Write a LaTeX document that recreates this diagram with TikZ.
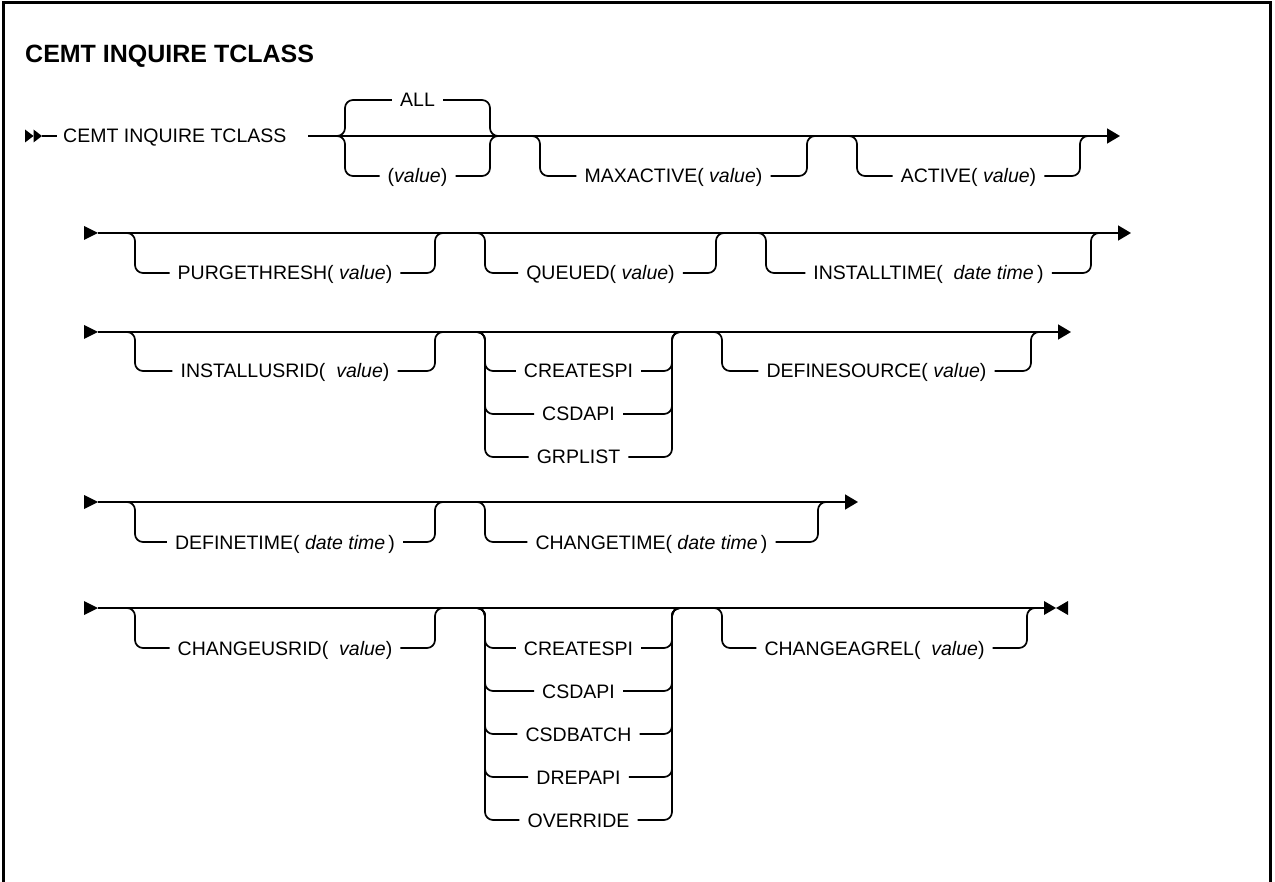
\documentclass[tikz,border=0pt]{standalone}
\usepackage{fontspec}
\setmainfont{Liberation Sans}
\usetikzlibrary{arrows.meta}
\tikzset{
  rail/.style={line width=1.7pt, rounded corners=8pt},
  kw/.style={font=\fontsize{19.5}{23}\selectfont, inner xsep=8pt, inner ysep=0pt, text height=14pt, text depth=0pt},
  ttl/.style={font=\fontsize{25}{30}\selectfont\bfseries, inner sep=0pt, anchor=base west},
  endtip/.style={-{Triangle[length=13pt,width=15pt]}},
  rowin/.pic={\fill (0,-7) -- (14,0) -- (0,7) -- cycle;},
  rowstart/.pic={\fill (0,-6.5) -- (8.5,0) -- (0,6.5) -- cycle; \fill (8.5,-6.5) -- (17,0) -- (8.5,6.5) -- cycle;},
  rowend/.pic={\fill (0,-7) -- (12,0) -- (0,7) -- cycle; \fill (24,-7) -- (12,0) -- (24,7) -- cycle;},
}
% name, left x, right x, main y, branch y, text
\newcommand\railopt[6]{%
  \node[kw] (#1) at ({(#2+#3)/2},#5) {#6};
  \draw[rail] (#1.west) -- (#2,#5) |- ({#2-9},#4);
  \draw[rail] (#1.east) -- (#3,#5) |- ({#3+9},#4);
}

\begin{document}
\begin{tikzpicture}[x=1pt,y=-1pt]
\useasboundingbox (0,0) rectangle (1275,882);
\draw[line width=3pt] (3,882) -- (3,3) -- (1270,3) -- (1270,882);
\node[ttl] (title) at (25,63) {CEMT INQUIRE TCLASS};

% row 1
\pic at (25,136) {rowstart};
\node[kw, inner xsep=6pt, anchor=west] (cmd) at (57,136) {CEMT INQUIRE TCLASS};
\draw[rail] (42,136) -- (cmd.west);
\draw[rail, endtip] (308,136) -- (1120,136);
\railopt{all}{345}{490}{136}{100}{ALL}
\railopt{val}{345}{490}{136}{176}{(\textit{value})}
\railopt{maxact}{540}{807}{136}{176}{MAXACTIVE( \textit{value})}
\railopt{active}{857}{1080}{136}{176}{ACTIVE( \textit{value})}

% row 2
\pic at (84,233) {rowin};
\draw[rail, endtip] (98,233) -- (1131,233);
\railopt{purge}{135}{435}{233}{273}{PURGETHRESH( \textit{value})}
\railopt{queued}{485}{716}{233}{273}{QUEUED( \textit{value})}
\railopt{insttime}{766}{1091}{233}{273}{INSTALLTIME(\ \ \textit{date time}\,)}

% row 3
\pic at (84,332) {rowin};
\draw[rail, endtip] (98,332) -- (1071,332);
\railopt{instusr}{135}{435}{332}{371}{INSTALLUSRID(\ \ \textit{value})}
\railopt{cspione}{485}{672}{332}{371}{CREATESPI}
\railopt{csdapione}{485}{672}{332}{414}{CSDAPI}
\railopt{grplist}{485}{672}{332}{457}{GRPLIST}
\railopt{defsrc}{722}{1031}{332}{371}{DEFINESOURCE( \textit{value})}

% row 4
\pic at (84,502) {rowin};
\draw[rail, endtip] (98,502) -- (858,502);
\railopt{deftime}{135}{435}{502}{542}{DEFINETIME( \textit{date time}\,)}
\railopt{chgtime}{485}{818}{502}{542}{CHANGETIME( \textit{date time}\,)}

% row 5
\pic at (84,608) {rowin};
\draw[rail] (98,608) -- (1044,608);
\pic at (1044,608) {rowend};
\railopt{chgusr}{135}{435}{608}{648}{CHANGEUSRID(\ \ \textit{value})}
\railopt{cspitwo}{485}{672}{608}{648}{CREATESPI}
\railopt{csdapitwo}{485}{672}{608}{691}{CSDAPI}
\railopt{csdbatch}{485}{672}{608}{734}{CSDBATCH}
\railopt{drepapi}{485}{672}{608}{777}{DREPAPI}
\railopt{override}{485}{672}{608}{820}{OVERRIDE}
\railopt{chgagrel}{722}{1027}{608}{648}{CHANGEAGREL(\ \ \textit{value})}
\end{tikzpicture}
\end{document}
